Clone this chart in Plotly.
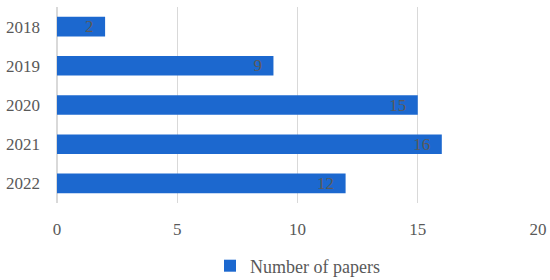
import plotly.graph_objects as go

years = ['2018', '2019', '2020', '2021', '2022']
papers = [2, 9, 15, 16, 12]
x_ticks = [0, 5, 10, 15, 20]

serif = 'Liberation Serif'

fig = go.Figure()
fig.add_trace(go.Bar(
    y=years, x=papers, orientation='h',
    name='Number of papers',
    marker=dict(color='#1c68cf', line=dict(width=0)),
    # value label sits a little in from the bar end
    text=[f'{v}\u00a0\u00a0' for v in papers],
    textposition='inside', insidetextanchor='end', textangle=0,
    textfont=dict(family=serif, size=17, color='#5a5a5a'),
    cliponaxis=False,
))

fig.update_layout(
    width=550, height=280,
    margin=dict(l=57, r=12, t=7, b=77, autoexpand=False),
    plot_bgcolor='white', paper_bgcolor='white',
    bargap=0.5,
    font=dict(family=serif, size=17, color='#595959'),
    showlegend=True,
    legend=dict(orientation='h', x=0.5, xanchor='center', yref='container',
                y=0.05, yanchor='middle',
                font=dict(size=18, color='#595959')),
    uniformtext=dict(minsize=17, mode='show'),
)
fig.update_xaxes(range=[0, 20], tickvals=x_ticks, showgrid=True, gridcolor='#d9d9d9',
                 gridwidth=1, zeroline=True, zerolinecolor='#d9d9d9', showline=False,
                 ticks='', ticklabelstandoff=14, automargin=False)
fig.update_yaxes(type='category', autorange='reversed', showgrid=False, showline=False,
                 ticks='', ticklabelstandoff=16, automargin=False)

fig.write_html('out.html', config={'displayModeBar': False},
               post_script="document.body.style.margin='0';")
